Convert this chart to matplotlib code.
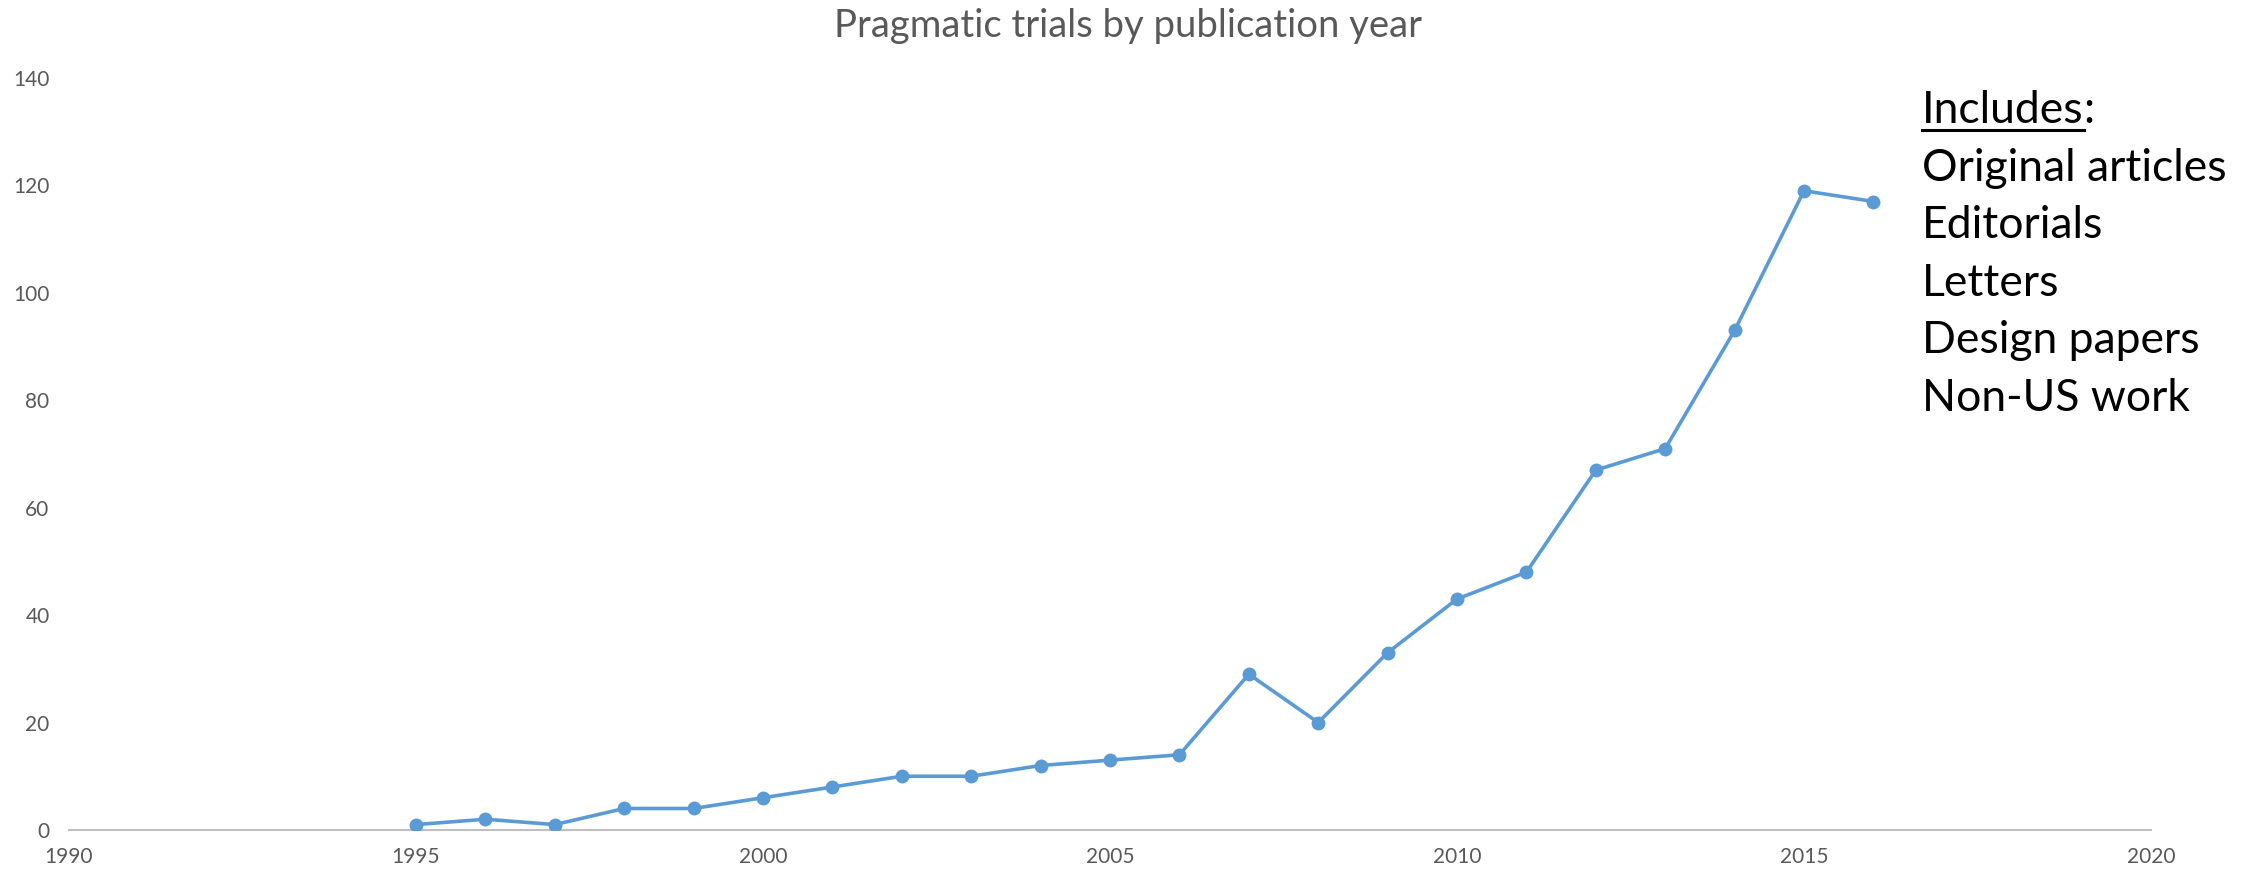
import matplotlib
matplotlib.use("Agg")
import matplotlib.pyplot as plt

# publication year vs number of pragmatic trial papers
years = [1995, 1996, 1997, 1998, 1999, 2000, 2001, 2002, 2003, 2004, 2005,
         2006, 2007, 2008, 2009, 2010, 2011, 2012, 2013, 2014, 2015, 2016]
counts = [1, 2, 1, 4, 4, 6, 8, 10, 10, 12, 13,
          14, 29, 20, 33, 43, 48, 67, 71, 93, 119, 117]

x_ticks = [1990, 1995, 2000, 2005, 2010, 2015, 2020]
y_ticks = [0, 20, 40, 60, 80, 100, 120, 140]
note_head = "Includes"
note_lines = ["Original articles", "Editorials", "Letters", "Design papers", "Non-US work"]

plt.rcParams['font.family'] = ['Lato', 'DejaVu Sans']

fig = plt.figure(figsize=(22.55, 8.73), dpi=100)
ax = fig.add_axes([0.0306, 0.0493, 0.9233, 0.8614])

ax.plot(years, counts, color='#5B9BD5', linewidth=2.6, marker='o',
        markersize=10, markeredgewidth=0)

ax.set_xlim(1990, 2020)
ax.set_ylim(0, 140)
ax.set_xticks(x_ticks)
ax.set_yticks(y_ticks)
ax.tick_params(axis='both', length=0, labelsize=15, labelcolor='#595959')
ax.tick_params(axis='x', pad=12)
ax.tick_params(axis='y', pad=14)
for s in ['top', 'right', 'left']:
    ax.spines[s].set_visible(False)
ax.spines['bottom'].set_color('#BFBFBF')
ax.spines['bottom'].set_linewidth(1.5)
ax.spines['bottom'].set_zorder(0)

fig.text(0.5, 0.97, "Pragmatic trials by publication year", ha='center', va='center',
         fontsize=27.5, color='#595959')

# side note, first word underlined
x0 = 0.8523
y0 = 0.859
step = 0.0659
fs = 32
head = fig.text(x0, y0, note_head, ha='left', va='baseline', fontsize=fs, color='black')
fig.canvas.draw()
bb = head.get_window_extent().transformed(fig.transFigure.inverted())
fig.text(bb.x1, y0, ":", ha='left', va='baseline', fontsize=fs, color='black')
fig.add_artist(plt.Line2D([bb.x0, bb.x1], [y0 - 0.008, y0 - 0.008],
                          transform=fig.transFigure, color='black', linewidth=2.2))
for i, line in enumerate(note_lines):
    fig.text(x0, y0 - step * (i + 1), line, ha='left', va='baseline',
             fontsize=fs, color='black')

fig.savefig("out.png", dpi=100)
